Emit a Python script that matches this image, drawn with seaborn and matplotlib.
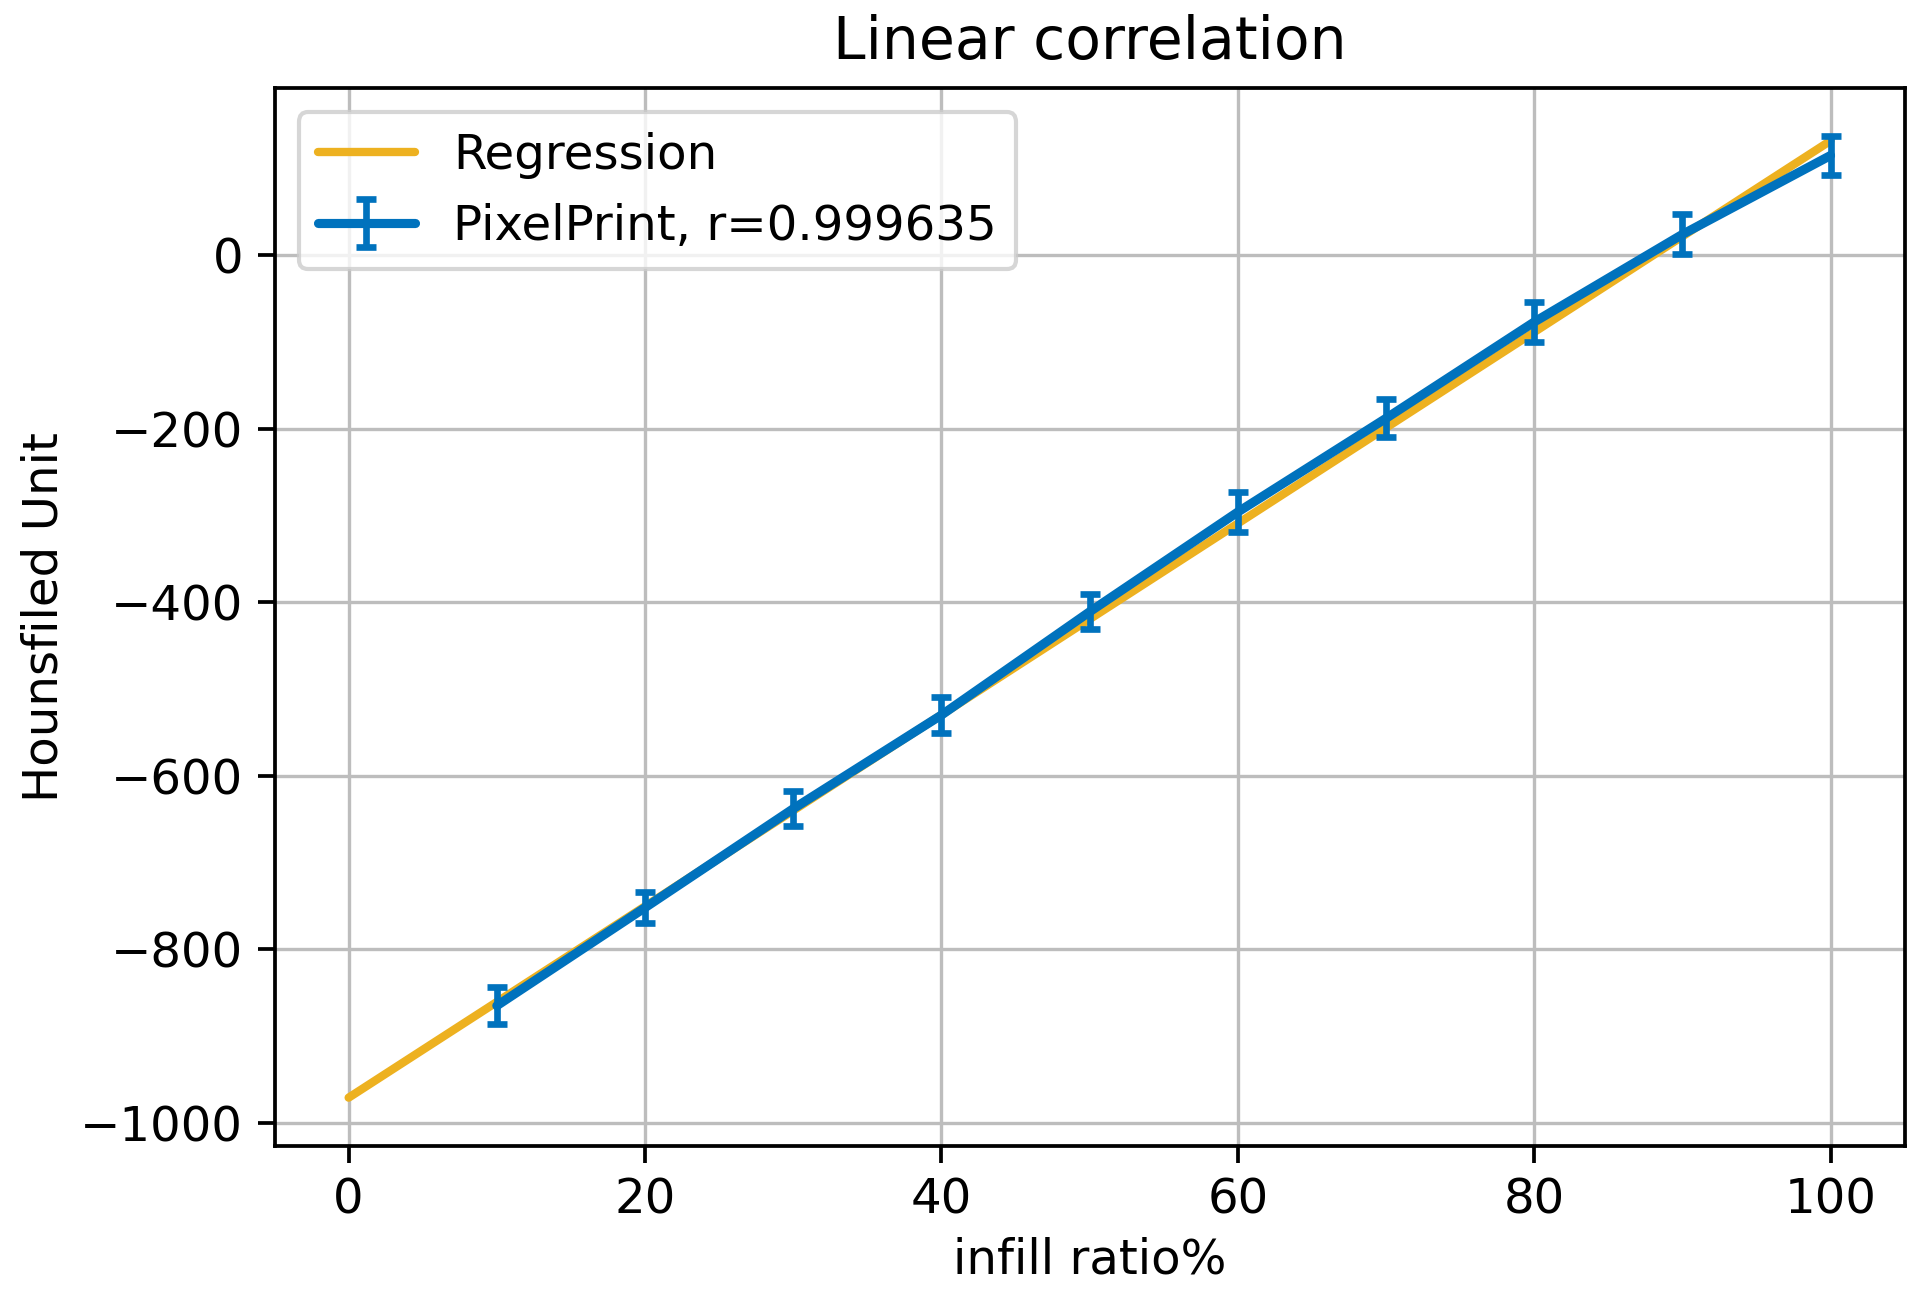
import seaborn as sns
import matplotlib.pyplot as plt
import numpy as np
import pandas as pd

# values
infill = [10, 20, 30, 40, 50, 60, 70, 80, 90, 100]
hu_mean = [-865, -752, -638, -530, -411, -296, -188, -77, 24, 115]
hu_std = [21, 18, 20, 21, 20, 23, 22, 23, 23, 22]

reg_x = [0, 100]
reg_y = [-971, 132]

r_value = 0.999635

sns.set_theme(style="ticks", font="DejaVu Sans")
plt.rcParams['font.family'] = ['DejaVu Sans']
plt.rcParams['text.color'] = 'black'
plt.rcParams['axes.labelcolor'] = 'black'

fs = 11.6

fig, ax = plt.subplots(figsize=(6.4, 4.33), dpi=300)
fig.subplots_adjust(left=0.143, right=0.992, top=0.932, bottom=0.118)

reg = pd.DataFrame({'x': reg_x, 'y': reg_y})
sns.lineplot(data=reg, x='x', y='y', ax=ax, color='#EDB120', lw=2, label='Regression')

ax.errorbar(infill, hu_mean, yerr=hu_std, color='#0072BD', lw=2.2,
            capsize=2.3, capthick=1.6, elinewidth=1.6,
            label='PixelPrint, r=%g' % r_value)

ax.grid(True, color='#bdbdbd', lw=0.8)
ax.set_axisbelow(True)
for s in ax.spines.values():
    s.set_color('black')
    s.set_linewidth(0.9)
ax.tick_params(colors='black', labelsize=fs, width=0.9, length=4)
ax.set_xticks([0, 20, 40, 60, 80, 100])
ax.set_yticks([-1000, -800, -600, -400, -200, 0])

ax.set_xlabel('infill ratio%', fontsize=fs, labelpad=3)
ax.set_ylabel('Hounsfiled Unit', fontsize=fs, labelpad=3)
ax.set_title('Linear correlation', fontsize=14, pad=7)
ax.legend(loc='upper left', fontsize=fs, frameon=True, framealpha=0.8, edgecolor='#cccccc')

plt.savefig('out.png', dpi=300)
